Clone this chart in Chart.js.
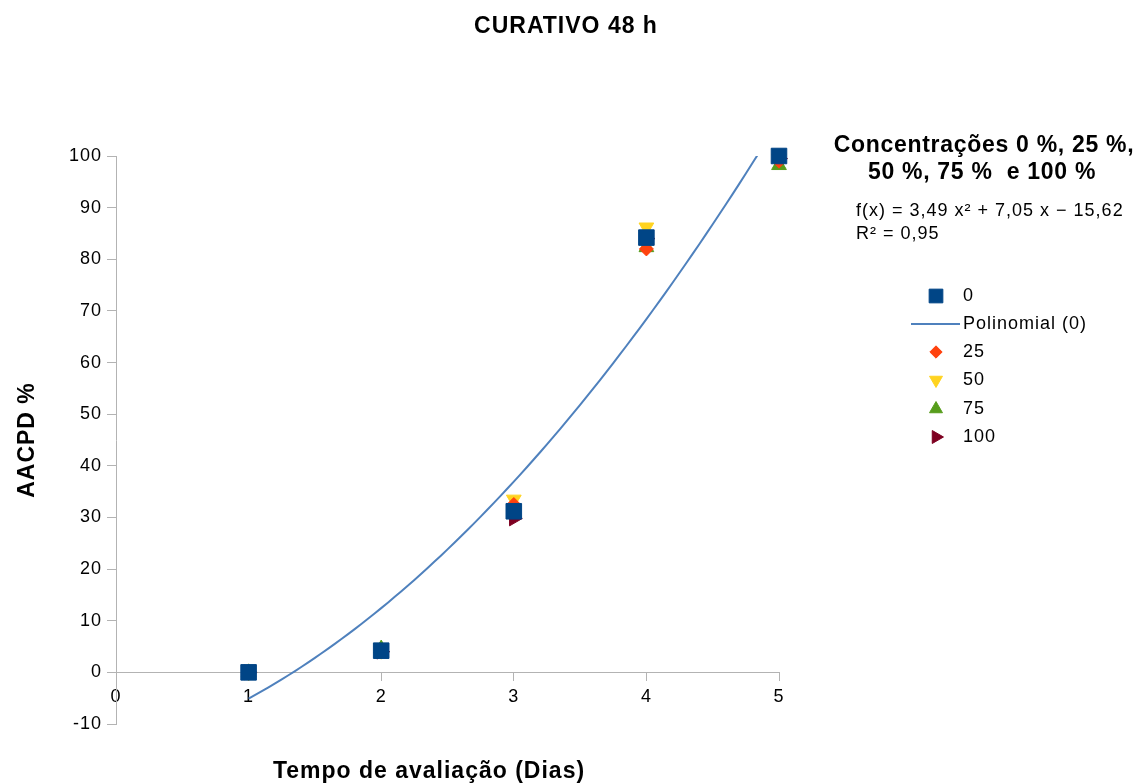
<!DOCTYPE html>
<html>
<head>
<meta charset="utf-8">
<script src="https://cdn.jsdelivr.net/npm/chart.js@4/dist/chart.umd.min.js"></script>
<style>
html,body{margin:0;padding:0;background:#fff}
#wrap{position:relative;width:1136px;height:784px}
</style>
</head>
<body>
<div id="wrap"><canvas id="chart" width="1136" height="784"></canvas></div>
<script>
// days on the x axis
const dias = [1, 2, 3, 4, 5]

// AACPD % per concentration
const conc0   = [0, 4.2, 31.2, 84.2, 100]
const conc25  = [0, 4.2, 32.5, 82.0, 99.0]
const conc50  = [0, 4.2, 33.5, 86.2, 99.5]
const conc75  = [0, 4.6, 31.0, 82.3, 98.2]
const conc100 = [0, 4.0, 29.8, 84.0, 99.5]

// polynomial trend of series 0, as printed on the chart: a x² + b x + c
const trendCoef = [3.49, 7.05, -15.62]
const trendText = ["f(x) = 3,49 x² + 7,05 x − 15,62", "R² = 0,95"]

const yTicks = [-10, 0, 10, 20, 30, 40, 50, 60, 70, 80, 90, 100]
const xTicks = [0, 1, 2, 3, 4, 5]

const chartTitle = "CURATIVO 48 h"
const xTitle = "Tempo de avaliação (Dias)"
const yTitle = "AACPD %"
const legendTitle = ["Concentrações 0 %, 25 %,", "50 %, 75 %  e 100 %"]

const FONT = "'Liberation Sans', Arial, sans-serif"

function pts(vals){
  return dias.map((d,i)=>({x:d, y:vals[i]}))
}

function trendPts(){
  let out=[]
  for(let x=dias[0]; x<=dias[dias.length-1]+1e-9; x+=0.05){
    out.push({x:x, y:trendCoef[0]*x*x + trendCoef[1]*x + trendCoef[2]})
  }
  return out
}

const series = [
  {label:"0", data:pts(conc0), color:"#004586", style:"rect", radius:11, rot:0},
  {label:"Polinomial (0)", data:trendPts(), color:"#4f81bd", line:true},
  {label:"25", data:pts(conc25), color:"#ff420e", style:"rectRot", radius:7, rot:0},
  {label:"50", data:pts(conc50), color:"#ffd320", style:"triangle", radius:8.5, rot:180},
  {label:"75", data:pts(conc75), color:"#579d1c", style:"triangle", radius:8.5, rot:0},
  {label:"100", data:pts(conc100), color:"#7e0021", style:"triangle", radius:8.5, rot:90}
]

const datasets = series.map(s=>{
  if(s.line){
    return {label:s.label, data:s.data, showLine:true, borderColor:s.color, borderWidth:2,
      pointRadius:0, fill:false, tension:0}
  }
  return {label:s.label, data:s.data, showLine:false, clip:false, pointStyle:s.style, pointRadius:s.radius,
    pointRotation:s.rot, backgroundColor:s.color, borderColor:s.color, borderWidth:1, pointHoverRadius:s.radius}
})

// LibreOffice-like letter spacing for all canvas text
const spacingPlugin = {
  id:"spacing",
  beforeDraw(chart){ chart.ctx.letterSpacing="1px" }
}

// title, legend + extra texts on the right, and the x title under the plot
const sidePlugin = {
  id:"side",
  afterDraw(chart){
    const ctx=chart.ctx
    ctx.save()
    ctx.letterSpacing="1px"
    ctx.fillStyle="#000"
    ctx.textBaseline="middle"

    ctx.font="bold 23px "+FONT
    ctx.textAlign="center"
    ctx.fillText(chartTitle, 566, 27)
    ctx.fillText(xTitle, 429, 772)
    ctx.letterSpacing="0.7px"
    ctx.fillText(legendTitle[0], 984, 146)
    ctx.fillText(legendTitle[1], 982, 173)
    ctx.letterSpacing="1px"

    ctx.font="18px "+FONT
    ctx.textAlign="left"
    ctx.fillText(trendText[0], 856, 211)
    ctx.fillText(trendText[1], 856, 234)

    let rows=[296, 324, 352, 380, 409, 437]
    series.forEach((s,i)=>{
      let y=rows[i]
      ctx.fillStyle=s.color
      ctx.strokeStyle=s.color
      if(s.line){
        ctx.lineWidth=2
        ctx.beginPath()
        ctx.moveTo(911,y)
        ctx.lineTo(960,y)
        ctx.stroke()
      }else{
        ctx.lineWidth=1
        Chart.helpers.drawPoint(ctx,{pointStyle:s.style, rotation:s.rot, radius:s.radius*0.88, borderWidth:1},936,y)
      }
      ctx.fillStyle="#000"
      ctx.font="18px "+FONT
      ctx.fillText(s.label, 963, y)
    })
    ctx.restore()
  }
}

new Chart(document.getElementById("chart"), {
  type:"scatter",
  data:{datasets:datasets},
  plugins:[spacingPlugin, sidePlugin],
  options:{
    responsive:false,
    animation:false,
    events:[],
    layout:{padding:{top:156, right:357, bottom:60, left:0}},
    plugins:{
      legend:{display:false},
      tooltip:{enabled:false}
    },
    scales:{
      x:{
        type:"linear",
        position:{y:0},
        min:0, max:5,
        afterBuildTicks(scale){ scale.ticks = xTicks.map(v=>({value:v})) },
        ticks:{color:"#000", font:{family:FONT, size:18}, padding:6, autoSkip:false},
        grid:{display:true, drawOnChartArea:false, drawTicks:true, tickLength:8, color:"#b3b3b3"},
        border:{display:true, color:"#b3b3b3", width:1}
      },
      y:{
        type:"linear",
        min:-10, max:100,
        afterBuildTicks(scale){ scale.ticks = yTicks.map(v=>({value:v})) },
        afterFit(scale){ scale.width = 116 },
        ticks:{color:"#000", font:{family:FONT, size:18}, padding:5, autoSkip:false},
        grid:{display:true, drawOnChartArea:false, drawTicks:true, tickLength:9, color:"#b3b3b3"},
        border:{display:true, color:"#b3b3b3", width:1},
        title:{display:true, text:yTitle, color:"#000", font:{family:FONT, size:23, weight:"bold"}, padding:{top:14}}
      }
    }
  }
})
</script>
</body>
</html>
